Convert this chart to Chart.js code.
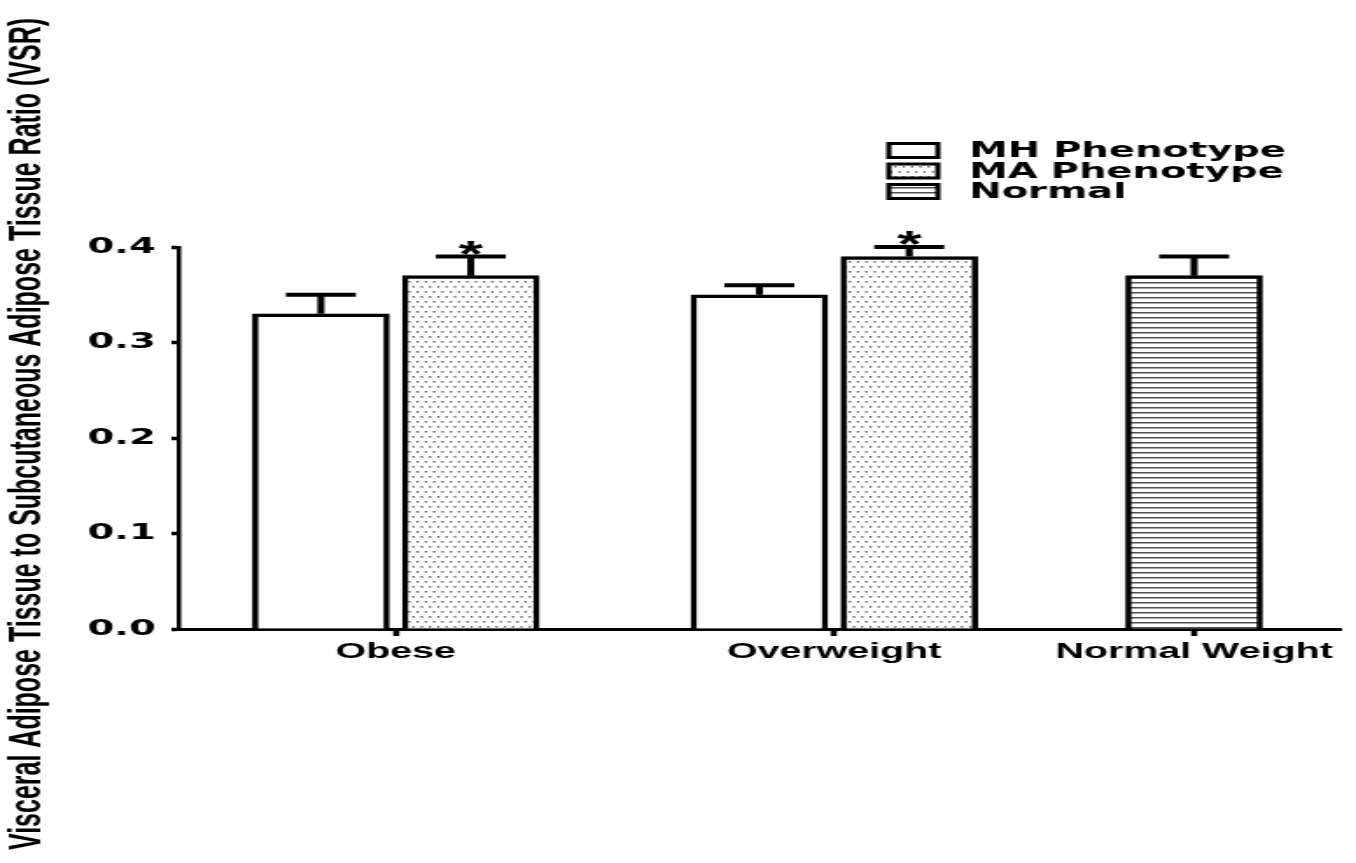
<!DOCTYPE html>
<html>
<head>
<meta charset="utf-8">
<title>VSR by weight group and phenotype</title>
<script src="https://cdn.jsdelivr.net/npm/chart.js@4.4.1/dist/chart.umd.min.js"></script>
<style>
  html, body { margin: 0; padding: 0; background: #fff; overflow: hidden; }
  /* the source figure is stretched sideways: draw narrow, widen with CSS */
  #chart { display: block; width: 1356px; height: 863px; }
</style>
</head>
<body>
<canvas id="chart" width="775" height="863" style="width:1356px;height:863px"></canvas>
<script>
// Data
const groups = ['Obese', 'Overweight', 'Normal Weight'];
const groupPos = [2.9, 8.75, 13.55]; // where each group sits on the x axis
const mhMean = [0.33, 0.35];
const mhSem = [0.02, 0.01];
const maMean = [0.37, 0.39];
const maSem = [0.02, 0.01];
const maStar = [true, true];
const normalMean = [0.37];
const normalSem = [0.02];
const seriesNames = ['MH Phenotype', 'MA Phenotype', 'Normal'];

const BLACK = '#000';
const canvas = document.getElementById('chart');
const ctx = canvas.getContext('2d');

// Fill patterns
function dotPattern() {
  const c = document.createElement('canvas');
  c.width = 19; c.height = 10;
  const g = c.getContext('2d');
  g.fillStyle = '#fff';
  g.fillRect(0, 0, 19, 10);
  g.fillStyle = '#606060';
  [0.5, 5.25, 10, 14.75].forEach(x => g.fillRect(x, 1, 1.3, 1.6));
  [2.9, 7.6, 12.4, 17.1].forEach(x => g.fillRect(x, 6, 1.3, 1.6));
  return ctx.createPattern(c, 'repeat');
}

function linePattern() {
  const c = document.createElement('canvas');
  c.width = 4; c.height = 5;
  const g = c.getContext('2d');
  g.fillStyle = '#fff';
  g.fillRect(0, 0, 4, 5);
  g.fillStyle = '#505050';
  g.fillRect(0, 2, 4, 1.5);
  return ctx.createPattern(c, 'repeat');
}

const mhData = mhMean.map((v, i) => ({ x: groupPos[i] - 1, y: v }));
const maData = maMean.map((v, i) => ({ x: groupPos[i] + 1, y: v }));
const normalData = normalMean.map(v => ({ x: groupPos[2], y: v }));

// Error bars (upper only) and asterisks
const errorBars = {
  id: 'errorBars',
  afterDatasetsDraw(chart) {
    const { ctx } = chart;
    const yScale = chart.scales.y;
    ctx.save();
    ctx.strokeStyle = BLACK;
    ctx.lineWidth = 4;
    chart.data.datasets.forEach((ds, di) => {
      const meta = chart.getDatasetMeta(di);
      meta.data.forEach((bar, i) => {
        const top = yScale.getPixelForValue(ds.data[i].y + ds.sem[i]);
        ctx.beginPath();
        ctx.moveTo(bar.x, bar.y);
        ctx.lineTo(bar.x, top);
        ctx.moveTo(bar.x - 20, top);
        ctx.lineTo(bar.x + 20, top);
        ctx.stroke();
        if (ds.star && ds.star[i]) {
          ctx.fillStyle = BLACK;
          ctx.font = "bold 36px 'Liberation Sans', Arial, sans-serif";
          ctx.textAlign = 'center';
          ctx.textBaseline = 'alphabetic';
          ctx.fillText('*', bar.x, top + 10);
        }
      });
    });
    ctx.restore();
  }
};

// Y axis title, drawn by hand because it is longer than the axis
const yTitle = {
  id: 'yTitle',
  afterDraw(chart) {
    const { ctx } = chart;
    ctx.save();
    ctx.translate(16, 434);
    ctx.rotate(-Math.PI / 2);
    ctx.fillStyle = BLACK;
    ctx.font = "bold 25px 'Liberation Sans', Arial, sans-serif";
    ctx.textAlign = 'center';
    ctx.textBaseline = 'middle';
    ctx.fillText('Visceral Adipose Tissue to Subcutaneous Adipose Tissue Ratio (VSR)', 0, 0);
    ctx.restore();
  }
};

// Stacked legend in the top right
const legendStack = {
  id: 'legendStack',
  afterDraw(chart) {
    const { ctx } = chart;
    ctx.save();
    chart.data.datasets.forEach((ds, i) => {
      const cy = 150.5 + i * 20.5;
      ctx.fillStyle = ds.backgroundColor;
      ctx.fillRect(508, cy - 7, 28, 14);
      ctx.lineWidth = 3;
      ctx.strokeStyle = BLACK;
      ctx.strokeRect(508, cy - 7, 28, 14);
      ctx.fillStyle = BLACK;
      ctx.font = "bold 22px 'DejaVu Sans', sans-serif";
      ctx.textAlign = 'left';
      ctx.textBaseline = 'middle';
      ctx.fillText(ds.label, 554, cy + 1);
    });
    ctx.restore();
  }
};

const barStyle = {
  borderColor: BLACK,
  borderWidth: 3.5,
  barThickness: 78,
  grouped: false
};

const chart = new Chart(ctx, {
  type: 'bar',
  data: {
    datasets: [
      { label: seriesNames[0], data: mhData, sem: mhSem, backgroundColor: '#fff', ...barStyle },
      { label: seriesNames[1], data: maData, sem: maSem, star: maStar, backgroundColor: dotPattern(), ...barStyle },
      { label: seriesNames[2], data: normalData, sem: normalSem, backgroundColor: linePattern(), ...barStyle }
    ]
  },
  options: {
    responsive: false,
    devicePixelRatio: 1,
    animation: false,
    layout: { padding: { top: 247, right: 9, bottom: 0, left: 0 } },
    plugins: {
      legend: { display: false },
      tooltip: { enabled: false }
    },
    scales: {
      x: {
        type: 'linear',
        min: 0,
        max: 15.5,
        offset: false,
        z: 1,
        afterBuildTicks: s => { s.ticks = groupPos.map(v => ({ value: v })); },
        afterFit: s => { s.height = 234; },
        ticks: {
          callback: (v, i) => groups[i],
          autoSkip: false,
          maxRotation: 0,
          minRotation: 0,
          padding: 2,
          color: BLACK,
          font: { family: "'Liberation Sans', Arial, sans-serif", size: 22.5, weight: 'bold' }
        },
        grid: { offset: false, drawOnChartArea: false, tickLength: 7, tickWidth: 3.5, tickColor: BLACK },
        border: { display: true, color: BLACK, width: 3 }
      },
      y: {
        min: 0,
        max: 0.4,
        afterFit: s => { s.width = 102; },
        ticks: {
          stepSize: 0.1,
          callback: v => v.toFixed(1),
          padding: 9,
          color: BLACK,
          font: { family: "'DejaVu Sans', sans-serif", size: 22, weight: 'bold' }
        },
        grid: { drawOnChartArea: false, tickLength: 4, tickWidth: 3.5, tickColor: BLACK },
        border: { display: true, color: BLACK, width: 2.5 }
      }
    }
  },
  plugins: [errorBars, yTitle, legendStack]
});

canvas.style.width = '1356px';
canvas.style.height = '863px';
</script>
</body>
</html>
